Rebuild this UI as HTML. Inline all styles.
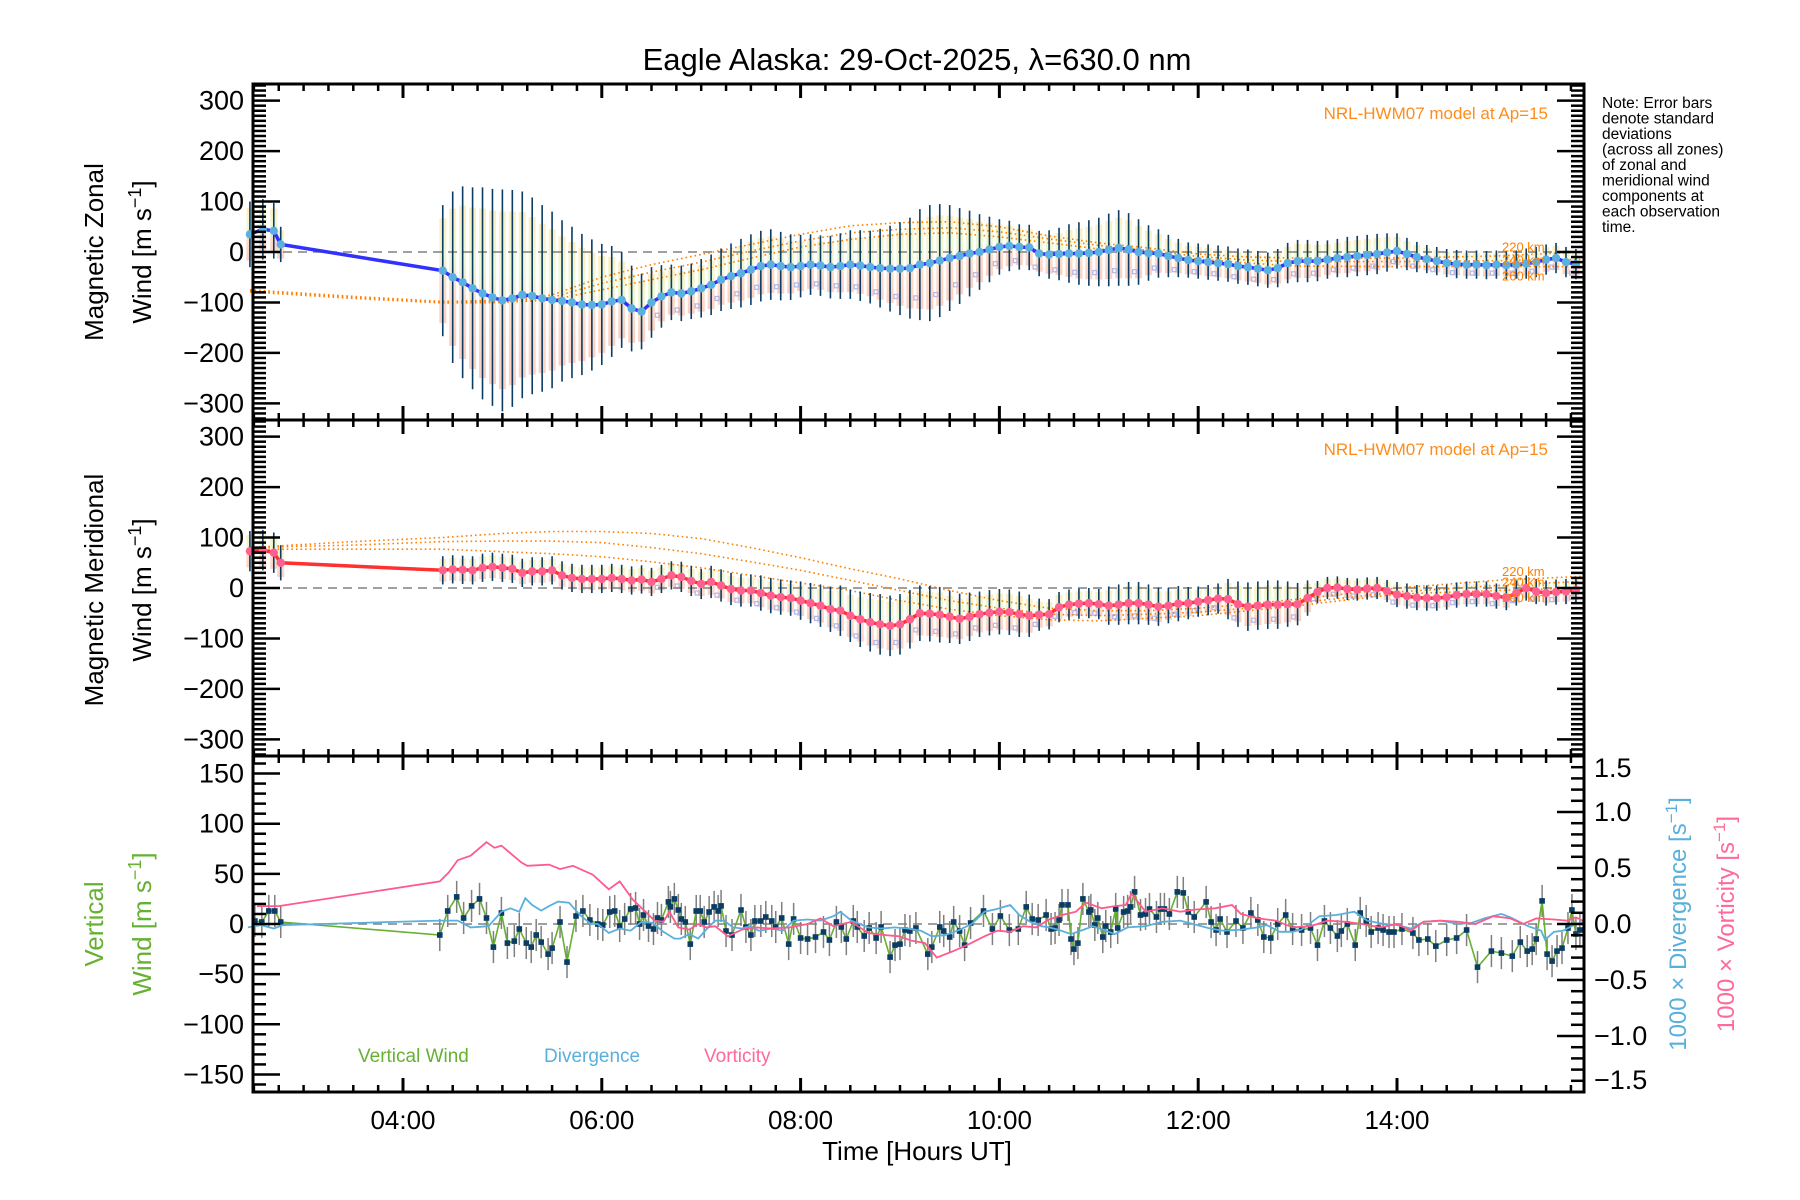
<!DOCTYPE html>
<html><head><meta charset="utf-8"><title>Eagle Alaska winds</title>
<style>
html,body{margin:0;padding:0;background:#fff;}
svg{display:block;font-family:"Liberation Sans",sans-serif;}
</style></head>
<body>
<svg id="chart" width="1800" height="1200" viewBox="0 0 1800 1200" xmlns="http://www.w3.org/2000/svg">
<defs>
<linearGradient id="pastel" x1="0" y1="0" x2="0" y2="1">
<stop offset="0" stop-color="#fdeab0"/><stop offset="0.35" stop-color="#e8f8cc"/><stop offset="0.6" stop-color="#fcd6c0"/><stop offset="1" stop-color="#fbc4b4"/>
</linearGradient>
</defs>
<text x="917" y="70" font-size="31" text-anchor="middle">Eagle Alaska: 29-Oct-2025, λ=630.0 nm</text>
<g id="g-back"></g>
<g id="g-data"></g>
<g id="g-axes"></g>
<text x="103" y="252" font-size="26" text-anchor="middle" transform="rotate(-90 103 252)">Magnetic Zonal</text>
<text x="151" y="252" font-size="26" text-anchor="middle" transform="rotate(-90 151 252)">Wind [m s<tspan dy="-10" font-size="18">−1</tspan><tspan dy="10">]</tspan></text>
<text x="103" y="590" font-size="26" text-anchor="middle" transform="rotate(-90 103 590)">Magnetic Meridional</text>
<text x="151" y="590" font-size="26" text-anchor="middle" transform="rotate(-90 151 590)">Wind [m s<tspan dy="-10" font-size="18">−1</tspan><tspan dy="10">]</tspan></text>
<text x="103" y="924" font-size="26" fill="#66b032" text-anchor="middle" transform="rotate(-90 103 924)">Vertical</text>
<text x="151" y="924" font-size="26" fill="#66b032" text-anchor="middle" transform="rotate(-90 151 924)">Wind [m s<tspan dy="-10" font-size="18">−1</tspan><tspan dy="10">]</tspan></text>
<text x="1686" y="924" font-size="24" fill="#5aafdd" text-anchor="middle" transform="rotate(-90 1686 924)">1000 × Divergence [s<tspan dy="-9" font-size="17">−1</tspan><tspan dy="9">]</tspan></text>
<text x="1734" y="924" font-size="24" fill="#ff6a98" text-anchor="middle" transform="rotate(-90 1734 924)">1000 × Vorticity [s<tspan dy="-9" font-size="17">−1</tspan><tspan dy="9">]</tspan></text>
<text x="917" y="1160" font-size="26" text-anchor="middle">Time [Hours UT]</text>
<g font-size="15.5">
<text x="1602" y="108">Note: Error bars</text><text x="1602" y="123.5">denote standard</text><text x="1602" y="139">deviations</text><text x="1602" y="154.5">(across all zones)</text><text x="1602" y="170">of zonal and</text><text x="1602" y="185.5">meridional wind</text><text x="1602" y="201">components at</text><text x="1602" y="216.5">each observation</text><text x="1602" y="232">time.</text>
</g>
<text x="1548" y="119" font-size="17" fill="#ff8c1a" text-anchor="end">NRL-HWM07 model at Ap=15</text>
<text x="1548" y="455" font-size="17" fill="#ff8c1a" text-anchor="end">NRL-HWM07 model at Ap=15</text>
<text x="358" y="1062" font-size="19" fill="#66b032">Vertical Wind</text>
<text x="544" y="1062" font-size="19" fill="#5aafdd">Divergence</text>
<text x="704" y="1062" font-size="19" fill="#ff6a98">Vorticity</text>
</svg>
<script>
// ---------- DATA ----------
const obsHours = [2.46,2.59,2.70,2.77,
4.4,4.5,4.6,4.7,4.8,4.9,5.0,5.1,5.2,5.3,5.4,5.5,5.6,5.7,5.8,5.9,6.0,6.1,6.2,6.3,6.4,6.5,6.6,6.7,6.8,6.9,7.0,7.1,7.2,7.3,7.4,7.5,7.6,7.7,7.8,7.9,8.0,8.1,8.2,8.3,8.4,8.5,8.6,8.7,8.8,8.9,9.0,9.1,9.2,9.3,9.4,9.5,9.6,9.7,9.8,9.9,10.0,10.1,10.2,10.3,10.4,10.5,10.6,10.7,10.8,10.9,11.0,11.1,11.2,11.3,11.4,11.5,11.6,11.7,11.8,11.9,12.0,12.1,12.2,12.3,12.4,12.5,12.6,12.7,12.8,12.9,13.0,13.1,13.2,13.3,13.4,13.5,13.6,13.7,13.8,13.9,14.0,14.1,14.2,14.3,14.4,14.5,14.6,14.7,14.8,14.9,15.0,15.1,15.2,15.3,15.4,15.5,15.6,15.7,15.8];
const zonalMean = [35,45,42,15,
-37,-50,-60,-72,-82,-90,-96,-92,-85,-87,
-92,-95,-97,-100,-104,-105,-104,-98,-95,-112,
-118,-100,-88,-80,-82,-78,-72,-65,-55,-48,
-42,-35,-28,-25,-28,-30,-28,-25,-27,-30,
-28,-25,-27,-30,-32,-33,-33,-32,-25,-22,
-17,-12,-8,-3,0,5,10,12,10,9,
-3,-5,-4,-3,-3,-2,0,4,8,5,
0,-2,-3,-8,-12,-16,-18,-20,-22,-24,
-28,-30,-33,-36,-32,-22,-18,-18,-18,-15,
-12,-10,-8,-6,-4,-1,2,-4,-10,-14,
-18,-22,-24,-25,-25,-26,-25,-26,-25,-23,
-20,-15,-12,-20,-24];
const zonalStd = [65,60,55,35,
130,170,190,200,210,215,220,215,205,195,
185,175,160,150,140,130,120,110,95,85,
75,70,62,55,55,55,58,60,62,65,
68,70,70,70,68,65,62,60,60,62,
65,68,70,72,78,85,92,100,110,115,
112,105,95,85,75,65,55,50,45,45,
45,48,52,58,62,65,68,72,75,72,
65,55,48,42,38,35,35,35,35,35,
35,35,35,35,38,40,42,42,40,38,
38,40,40,40,40,38,35,32,30,28,
28,28,28,28,28,28,28,28,28,30,
30,30,30,30,30];
const meridMean = [73,75,70,50,
35,37,36,35,40,42,40,38,30,33,
33,35,25,20,18,18,18,20,18,15,
17,12,18,25,22,14,8,12,5,-2,
-5,-5,-10,-15,-18,-20,-25,-30,-35,-42,
-45,-55,-62,-68,-72,-75,-72,-62,-50,-51,
-53,-57,-61,-57,-52,-49,-47,-48,-52,-55,
-53,-52,-38,-33,-31,-30,-32,-35,-33,-30,
-30,-33,-37,-35,-31,-30,-27,-24,-21,-22,
-32,-37,-35,-33,-33,-32,-32,-20,-8,0,
1,-2,-3,-1,0,-6,-13,-16,-19,-20,
-20,-18,-14,-12,-12,-12,-16,-19,-10,0,
-7,-10,-8,-7,-4];
const meridStd = [40,40,40,35,
28,28,28,28,28,28,28,28,28,28,28,28,28,28,28,28,28,28,28,28,28,28,28,28,30,30,30,
32,32,32,32,32,35,35,35,35,38,40,42,
45,50,52,55,58,60,60,60,58,55,55,55,52,
50,48,45,45,45,45,45,42,
32,30,30,30,30,30,30,
38,40,42,42,40,38,35,35,
32,30,30,30,
40,45,48,48,48,48,45,42,35,
22,22,22,22,22,22,22,22,25,
25,25,25,25,25,25,25,25,25,25,25,25,25,25,25,25,25,25];
const modelHours = [2.46,3.5,4.4,5.0,5.5,6.0,6.5,7.0,7.5,8.0,8.5,9.0,9.5,10.0,10.5,11.0,11.5,12.0,12.5,13.0,14.0,15.0,15.85];
const zonal220 = [-75,-88,-98,-96,-85,-50,-25,-5,15,35,52,58,60,50,32,18,8,-4,-10,-12,-12,-8,0];
const zonal240 = [-77,-90,-100,-98,-90,-62,-40,-20,2,22,38,45,48,40,26,13,3,-9,-16,-19,-19,-17,-15];
const zonal260 = [-79,-92,-101,-100,-95,-75,-55,-35,-12,10,25,35,38,30,18,6,-3,-14,-22,-28,-29,-29,-29];
const merid220 = [80,92,100,108,112,112,108,98,80,60,38,18,-5,-25,-40,-45,-45,-40,-32,-22,0,15,23];
const merid240 = [80,85,92,93,93,90,80,68,52,35,15,-5,-25,-40,-52,-55,-52,-48,-40,-30,-8,5,13];
const merid260 = [77,77,77,72,68,62,52,40,25,10,-5,-25,-42,-55,-63,-65,-60,-55,-45,-35,-12,-5,0];
const vwHours = [2.51,2.58,2.65,2.71,2.77,4.37,4.45,4.54,4.61,4.69,4.77,4.84,4.91,4.99,5.05,5.12,5.17,5.24,5.29,5.34,5.39,5.46,5.50,5.58,5.65,5.74,5.81,5.88,5.96,6.01,6.08,6.13,6.18,6.23,6.29,6.34,6.38,6.42,6.47,6.52,6.56,6.60,6.67,6.69,6.73,6.77,6.80,6.84,6.89,6.95,6.99,7.03,7.08,7.13,7.17,7.20,7.25,7.31,7.40,7.45,7.50,7.54,7.60,7.65,7.71,7.75,7.81,7.88,7.93,8.00,8.07,8.15,8.23,8.29,8.36,8.41,8.46,8.53,8.57,8.64,8.69,8.76,8.81,8.90,8.95,9.00,9.05,9.10,9.16,
9.28,9.32,9.40,9.44,9.50,9.54,9.60,9.65,9.71,9.84,9.93,10.01,10.10,10.19,10.27,10.33,10.39,10.47,10.52,10.56,10.60,10.63,10.69,10.72,10.75,10.79,10.84,10.90,10.92,10.96,10.99,11.04,11.07,11.12,11.17,11.19,11.25,11.29,11.32,11.36,11.42,11.47,11.51,11.58,11.62,11.66,11.71,11.79,11.85,11.90,11.96,12.08,12.13,12.18,12.22,12.29,12.38,12.45,12.53,12.60,12.66,12.73,12.80,12.88,12.95,13.04,13.13,13.20,13.27,13.33,13.40,13.44,13.50,13.58,13.63,13.69,13.74,13.81,13.86,13.92,13.97,14.05,14.16,14.22,14.31,14.39,14.50,14.60,14.70,14.81,14.95,15.05,15.16,15.24,15.31,15.36,15.40,15.46,15.51,15.56,15.61,15.66,15.72,15.76,15.80,15.84];
const vwValues = [3,2,13,13,2,-11,13,27,6,18,25,6,-23,11,-19,-17,-5,-19,-23,-11,-18,-30,-24,2,-38,8,13,4,0,-1,12,13,-2,5,15,16,0,9,-2,-5,6,4,22,17,25,14,5,2,-20,13,13,2,12,17,13,18,-7,-11,14,-3,-11,3,3,7,3,-3,6,-20,5,-14,-15,-13,-8,-16,2,-3,-15,3,-3,-12,-4,-14,-3,-33,-21,-20,-6,-7,-4,
-30,-23,-3,-7,-13,2,-7,-21,1,13,-5,8,-6,-5,17,5,4,9,-5,-4,4,19,19,-15,-25,-19,25,12,14,-1,6,-13,-2,-8,15,-4,12,13,17,32,9,10,15,7,15,15,10,32,31,12,7,22,2,-6,5,-8,3,-4,11,4,-13,-14,0,9,-5,-6,-4,-21,3,-4,-12,-7,0,-21,11,3,-8,-4,-6,-8,-8,-5,-9,-16,-15,-22,-16,-14,-6,-43,-27,-29,-32,-18,-27,-25,-15,23,-30,-37,-27,-24,-4,14,-10,-6];
const VW_ERR = 16;
const divHours = [2.44,2.57,2.70,2.79,4.37,4.55,4.68,4.86,4.99,5.08,5.17,5.23,5.30,5.39,5.47,5.56,5.67,5.78,5.89,5.96,6.07,6.18,6.29,6.40,6.51,6.62,6.73,6.79,6.88,6.97,7.05,7.14,7.23,7.32,7.41,7.49,7.58,7.71,7.82,7.93,8.07,8.20,8.33,8.40,8.51,8.68,8.81,8.95,9.08,9.21,9.32,9.45,9.58,9.72,9.85,9.96,10.11,10.20,10.31,10.42,10.50,10.59,10.72,10.85,10.94,11.07,11.16,11.29,11.47,11.64,11.82,11.99,12.12,12.25,12.43,12.60,12.69,12.82,12.95,13.04,13.22,13.39,13.57,13.70,13.87,14.00,14.14,14.27,14.44,14.62,14.75,14.88,15.05,15.14,15.32,15.45,15.49,15.58,15.67,15.80,15.89];
const divValues = [-0.03,-0.01,-0.04,-0.01,0.03,0.03,-0.03,-0.02,0.11,0.14,0.11,0.23,0.17,0.12,0.16,0.20,0.19,0.08,0.0,0.0,-0.08,-0.04,-0.06,0.02,0.01,-0.07,-0.13,-0.13,-0.09,-0.13,-0.05,0.03,0.03,-0.03,-0.04,-0.02,-0.06,-0.04,-0.06,0.03,0.04,0.03,0.07,0.11,0.03,-0.03,-0.04,-0.03,-0.04,-0.06,-0.11,-0.10,-0.06,0.0,0.11,0.13,0.17,0.08,0.02,-0.02,-0.03,-0.05,-0.09,-0.05,-0.02,-0.06,-0.09,-0.03,-0.02,0.02,0.03,-0.01,-0.04,-0.06,-0.05,-0.03,-0.01,-0.07,-0.07,-0.05,0.07,0.08,0.11,0.03,0.0,-0.01,-0.04,0.02,0.03,0.0,0.01,0.05,0.09,0.06,-0.02,-0.06,-0.14,-0.07,-0.06,0.0,0.02];
const vortHours = [2.53,2.75,4.37,4.46,4.55,4.68,4.84,4.92,4.99,5.19,5.25,5.47,5.58,5.71,5.91,6.07,6.18,6.31,6.44,6.53,6.62,6.68,6.77,6.88,6.97,7.05,7.14,7.27,7.41,7.54,7.71,7.89,8.07,8.20,8.33,8.51,8.68,8.86,8.99,9.12,9.25,9.37,9.54,9.67,9.85,9.98,10.11,10.24,10.37,10.50,10.63,10.77,10.87,11.03,11.16,11.27,11.33,11.47,11.64,11.82,11.99,12.17,12.34,12.43,12.60,12.78,12.95,13.13,13.30,13.48,13.65,13.83,14.00,14.14,14.27,14.44,14.62,14.79,14.97,15.14,15.27,15.40,15.58,15.71,15.80,15.89];
const vortValues = [0.16,0.16,0.38,0.46,0.57,0.61,0.73,0.68,0.70,0.55,0.52,0.53,0.49,0.52,0.44,0.31,0.38,0.22,0.11,0.03,0.02,0.11,-0.03,-0.05,0.0,-0.03,-0.02,-0.11,-0.05,-0.03,-0.04,-0.03,0.0,0.05,-0.02,0.02,-0.08,-0.10,-0.11,-0.15,-0.17,-0.30,-0.24,-0.19,-0.11,-0.06,-0.07,-0.02,-0.03,0.04,0.08,0.11,0.19,0.14,0.16,0.17,0.27,0.11,0.14,0.11,0.13,0.14,0.17,0.09,0.05,0.03,-0.03,-0.02,0.03,0.02,0.0,-0.03,0.0,-0.06,0.02,0.03,0.02,0.0,0.07,0.05,0.0,0.05,0.04,0.03,0.06,0.02];
const hourTicks = [4,6,8,10,12,14];
const hourLabels = ["04:00","06:00","08:00","10:00","12:00","14:00"];
const windTicks = [300,200,100,0,-100,-200,-300];
const windLabels = ["300","200","100","0","−100","−200","−300"];
const vertTicks = [150,100,50,0,-50,-100,-150];
const vertLabels = ["150","100","50","0","−50","−100","−150"];
const rightTicks = [1.5,1.0,0.5,0.0,-0.5,-1.0,-1.5];
const rightLabels = ["1.5","1.0","0.5","0.0","−0.5","−1.0","−1.5"];

// ---------- SCALES ----------
const XL = 253, XR = 1584, H0 = 2.491, PXH = 99.4;
const TOPS = [84, 420, 756], PH = 336;
function xS(h){ return XL + (h - H0) * PXH; }
function yWind(p, v){ return TOPS[p] + PH/2 - v * (PH/2) / 333; }
function yVert(v){ return TOPS[2] + PH/2 - v * (PH/2) / 167.5; }
function yRight(v){ return TOPS[2] + PH/2 - v * (PH/2) / 1.5; }

const NS = "http://www.w3.org/2000/svg";
const gBack = document.getElementById("g-back");
const gData = document.getElementById("g-data");
const gAxes = document.getElementById("g-axes");
function mk(tag, attrs, parent){
  const el = document.createElementNS(NS, tag);
  for (const k in attrs) el.setAttribute(k, attrs[k]);
  parent.appendChild(el);
  return el;
}
function polyPts(hs, vs, yf){
  const n = Math.min(hs.length, vs.length);
  const a = [];
  for (let i = 0; i < n; i++) a.push(xS(hs[i]).toFixed(1) + "," + yf(vs[i]).toFixed(1));
  return a.join(" ");
}

// ---------- WIND PANELS ----------
function windPanel(p, mean, std, m220, m240, m260, lineColor, dotColor, name){
  const yf = v => yWind(p, v);
  const n = Math.min(obsHours.length, mean.length, std.length);
  for (let i = 0; i < n; i++){
    const x = xS(obsHours[i]);
    const r = mk("rect", {x:(x-3.5).toFixed(1), y:yf(mean[i]+std[i]*0.8).toFixed(1), width:7, height:(std[i]*0.8*2*(PH/2)/333).toFixed(1), fill:"url(#pastel)", opacity:0.8}, gBack);
    
    
    if (obsHours[i] > 6.5 && i % 2 === 0){
      const s1 = mk("rect", {x:(x-6).toFixed(1), y:(yf(mean[i]-std[i]*0.6)-2).toFixed(1), width:4, height:4, fill:"none", stroke:"#b8b8e6", "stroke-width":1.3}, gBack);
      
      
    }
  }
  const zl = mk("line", {x1:XL, x2:XR, y1:yf(0), y2:yf(0), stroke:"#808080", "stroke-width":1.5, "stroke-dasharray":"9 6"}, gData);
  
  
  [m220, m240, m260].forEach(function(ser, k){
    const ml = mk("polyline", {points:polyPts(modelHours, ser, yf), fill:"none", stroke:"#ff8000", "stroke-width":1.6, "stroke-dasharray":"1.6 3"}, gData);
    
    
  });
  for (let i = 0; i < n; i++){
    const x = xS(obsHours[i]);
    const eb = mk("line", {x1:x, x2:x, y1:yf(mean[i]+std[i]), y2:yf(mean[i]-std[i]), stroke:"#0a3c64", "stroke-width":1.6}, gData);
    
    
  }
  const ln = mk("polyline", {points:polyPts(obsHours, mean, yf), fill:"none", stroke:lineColor, "stroke-width":3.5}, gData);
  
  
  for (let i = 0; i < n; i++){
    const c = mk("circle", {cx:xS(obsHours[i]), cy:yf(mean[i]), r:4.2, fill:dotColor}, gData);
    
    
  }
  const last = modelHours.length - 1;
  const lbls = [["220 km", m220[last]+11], ["240 km", m240[last]], ["260 km", m260[last]-18]];
  lbls.forEach(function(l){
    const t = mk("text", {x:1502, y:(yf(l[1])+5).toFixed(1), "font-size":13, fill:"#ff8000"}, gData);
    t.textContent = l[0];
    
    
  });
}
windPanel(0, zonalMean, zonalStd, zonal220, zonal240, zonal260, "#3030ff", "#5ab0e0", "zonal");
windPanel(1, meridMean, meridStd, merid220, merid240, merid260, "#ff3030", "#ff6090", "meridional");

// ---------- VERTICAL PANEL ----------
const z3 = mk("line", {x1:XL, x2:XR, y1:yVert(0), y2:yVert(0), stroke:"#808080", "stroke-width":1.5, "stroke-dasharray":"9 6"}, gData);


const vn = Math.min(vwHours.length, vwValues.length);
for (let i = 0; i < vn; i++){
  const x = xS(vwHours[i]);
  const e = mk("line", {x1:x, x2:x, y1:yVert(vwValues[i]+VW_ERR), y2:yVert(vwValues[i]-VW_ERR), stroke:"#7f7f7f", "stroke-width":1.5}, gData);
  
  
}
const vwl = mk("polyline", {points:polyPts(vwHours, vwValues, yVert), fill:"none", stroke:"#66b032", "stroke-width":1.6}, gData);


for (let i = 0; i < vn; i++){
  const q = mk("rect", {x:(xS(vwHours[i])-2.8).toFixed(1), y:(yVert(vwValues[i])-2.8).toFixed(1), width:5.6, height:5.6, fill:"#0a3c64"}, gData);
  
  
}
const dvl = mk("polyline", {points:polyPts(divHours, divValues, yRight), fill:"none", stroke:"#5aafdd", "stroke-width":1.8}, gData);


const vol = mk("polyline", {points:polyPts(vortHours, vortValues, yRight), fill:"none", stroke:"#ff5a8c", "stroke-width":1.8}, gData);



// ---------- AXES ----------
for (let p = 0; p < 3; p++){
  const top = TOPS[p], bot = TOPS[p] + PH;
  const fr = mk("rect", {x:XL, y:top, width:XR-XL, height:PH, fill:"none", stroke:"#000", "stroke-width":3}, gAxes);
  
  
  for (let q = Math.ceil(H0*4); q/4 <= (XR-XL)/PXH + H0; q++){
    const h = q/4, x = xS(h), major = (q % 8 === 0);
    const L = major ? 14 : 7;
    const t1 = mk("line", {x1:x, x2:x, y1:top, y2:top+L, stroke:"#000", "stroke-width":major?3:2.5}, gAxes);
    
    
    const t2 = mk("line", {x1:x, x2:x, y1:bot, y2:bot-L, stroke:"#000", "stroke-width":major?3:2.5}, gAxes);
    
    
  }
  if (p < 2){
    for (let v = -330; v <= 330; v += 10){
      const major = (v % 100 === 0), L = major ? 27 : 13, y = yWind(p, v);
      const a = mk("line", {x1:XL, x2:XL+L, y1:y, y2:y, stroke:"#000", "stroke-width":2.5}, gAxes);
      
      
      const b = mk("line", {x1:XR, x2:XR-L, y1:y, y2:y, stroke:"#000", "stroke-width":2.5}, gAxes);
      
      
    }
    windTicks.forEach(function(v, k){
      const t = mk("text", {x:244, y:(yWind(p, v)+9).toFixed(1), "font-size":27, "text-anchor":"end"}, gAxes);
      t.textContent = windLabels[k];
      
      
    });
  } else {
    for (let v = -160; v <= 160; v += 10){
      const major = (v % 50 === 0), L = major ? 27 : 13, y = yVert(v);
      const a = mk("line", {x1:XL, x2:XL+L, y1:y, y2:y, stroke:"#000", "stroke-width":2.5}, gAxes);
      
      
    }
    vertTicks.forEach(function(v, k){
      const t = mk("text", {x:244, y:(yVert(v)+9).toFixed(1), "font-size":27, "text-anchor":"end"}, gAxes);
      t.textContent = vertLabels[k];
      
      
    });
    for (let q = -15; q <= 15; q++){
      const major = (q % 5 === 0), L = major ? 27 : 13, y = yRight(q/10);
      const a = mk("line", {x1:XR, x2:XR-L, y1:y, y2:y, stroke:"#000", "stroke-width":2.5}, gAxes);
      
      
    }
    rightTicks.forEach(function(v, k){
      let y = yRight(v) + 9;
      if (v === 1.5) y += 12;
      if (v === -1.5) y -= 12;
      const t = mk("text", {x:1594, y:y.toFixed(1), "font-size":27}, gAxes);
      t.textContent = rightLabels[k];
      
      
    });
  }
}
hourTicks.forEach(function(h, k){
  const t = mk("text", {x:xS(h).toFixed(1), y:1129, "font-size":26, "text-anchor":"middle"}, gAxes);
  t.textContent = hourLabels[k];
  
  
});
</script>
</body></html>
